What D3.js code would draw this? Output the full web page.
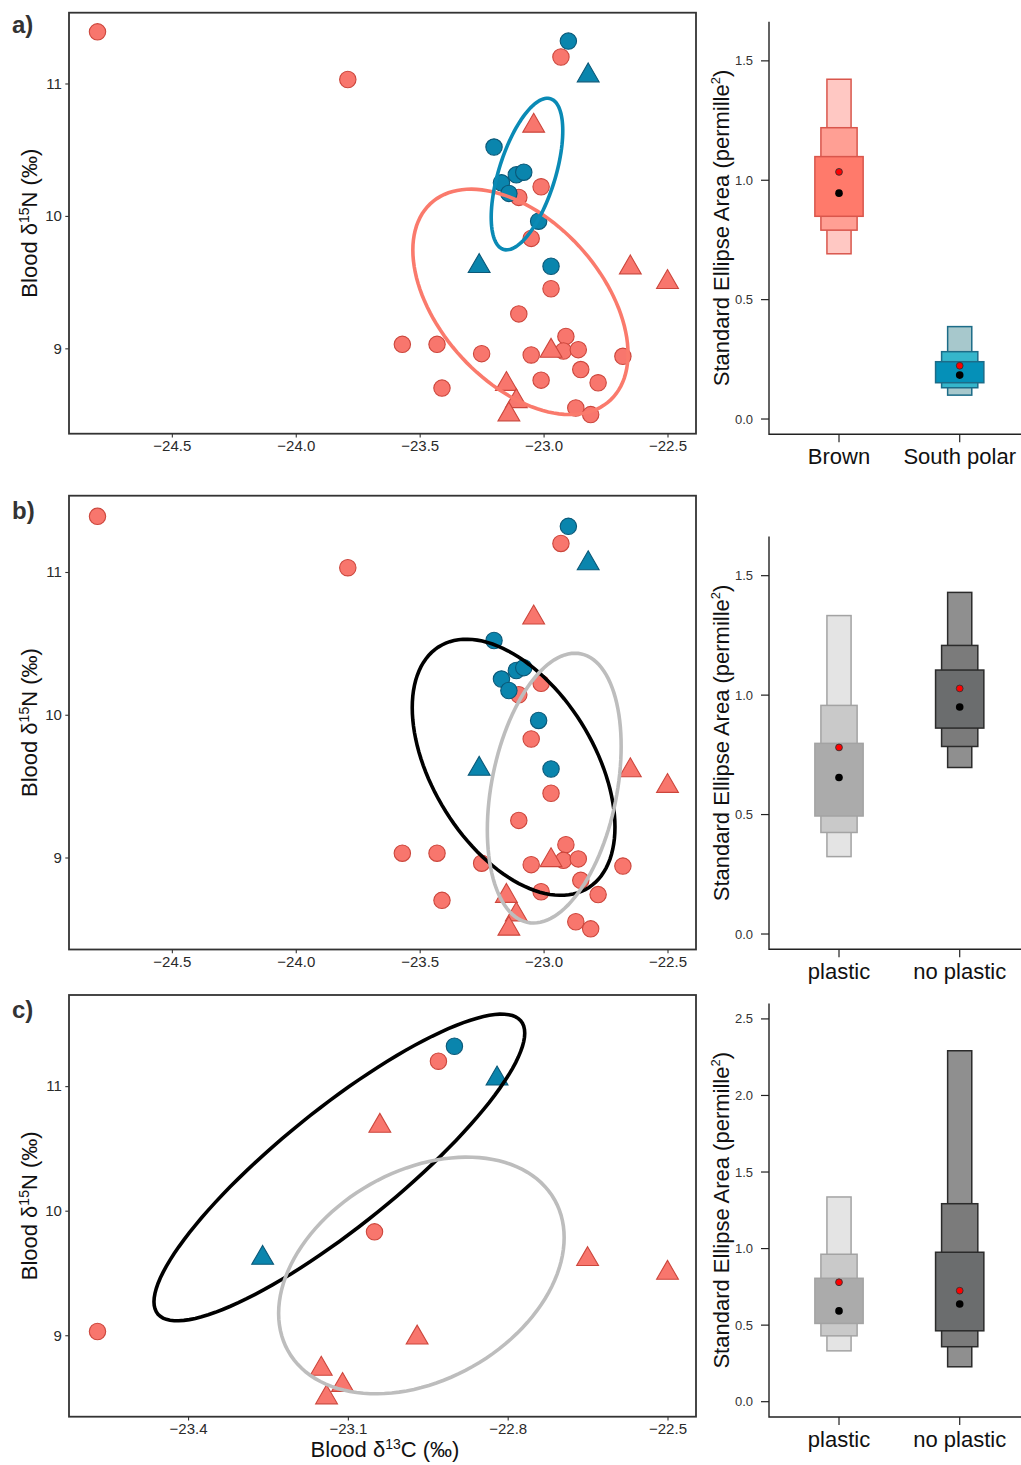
<!DOCTYPE html>
<meta charset="utf-8">
<style>
    body {
        margin: 0;
        background: #fff;
    }
</style>
<div id="chart"></div>
<script src="https://cdn.jsdelivr.net/npm/d3@7"></script>
<script>
    // blood isotope values [d13C, d15N]
    const brownCircles = [
        [-24.80, 11.39], [-23.79, 11.03], [-22.93, 11.20], [-23.01, 10.22], [-23.10, 10.14],
        [-23.05, 9.83], [-22.97, 9.45], [-23.10, 9.26], [-22.91, 9.09], [-22.92, 8.98],
        [-22.86, 8.99], [-23.05, 8.95], [-23.25, 8.96], [-23.57, 9.03], [-23.43, 9.03],
        [-23.41, 8.70], [-23.01, 8.76], [-22.85, 8.84], [-22.78, 8.74], [-22.68, 8.94],
        [-22.87, 8.55], [-22.81, 8.50]
    ];
    const brownTriangles = [
        [-23.04, 10.68], [-22.97, 8.98], [-23.15, 8.73], [-23.11, 8.60], [-23.14, 8.50],
        [-22.65, 9.61], [-22.50, 9.50]
    ];
    const polarCircles = [
        [-22.90, 11.32], [-23.20, 10.52], [-23.11, 10.31], [-23.08, 10.33], [-23.17, 10.25],
        [-23.14, 10.17], [-23.02, 9.96], [-22.97, 9.62]
    ];
    const polarTriangles = [[-22.82, 11.06], [-23.26, 9.62]];

    // circles that are also in panel c (all triangles are)
    const brownCirclesInC = [2, 5, 13];
    const polarCirclesInC = [0];

    // plastic / no plastic standard ellipses (mean, half extent, correlation)
    const ellipsesB = [
        {group: "no plastic", mean: [-23.121, 9.632], half: [0.409, 0.897], rho: -0.466},
        {group: "plastic", mean: [-22.957, 9.486], half: [0.270, 0.945], rho: 0.31}
    ];
    const ellipsesC = [
        {group: "no plastic", mean: [-23.116, 10.347], half: [0.348, 1.231], rho: 0.876},
        {group: "plastic", mean: [-22.962, 9.480], half: [0.268, 0.950], rho: 0.32}
    ];

    const xTicksAB = [-24.5, -24.0, -23.5, -23.0, -22.5];
    const xTicksC = [-23.4, -23.1, -22.8, -22.5];
    const yTicks = [9, 10, 11];

    // SEA posterior: credible intervals 95 / 75 / 50 %, red and black point
    const seaA = [
        {cat: "Brown", ci: [[0.692, 1.423], [0.791, 1.220], [0.849, 1.099]], red: 1.035, black: 0.946},
        {cat: "South polar", ci: [[0.100, 0.387], [0.131, 0.282], [0.152, 0.240]], red: 0.223, black: 0.184}
    ];
    const seaB = [
        {cat: "plastic", ci: [[0.324, 1.333], [0.425, 0.957], [0.494, 0.798]], red: 0.781, black: 0.655},
        {cat: "no plastic", ci: [[0.697, 1.430], [0.785, 1.208], [0.862, 1.105]], red: 1.028, black: 0.950}
    ];
    const seaC = [
        {cat: "plastic", ci: [[0.332, 1.337], [0.430, 0.963], [0.511, 0.806]], red: 0.780, black: 0.593},
        {cat: "no plastic", ci: [[0.228, 2.292], [0.359, 1.293], [0.463, 0.976]], red: 0.725, black: 0.638}
    ];
    const seaTicksAB = [0, 0.5, 1.0, 1.5];
    const seaTicksC = [0, 0.5, 1.0, 1.5, 2.0, 2.5];

    const font = "'Liberation Sans', Arial, Helvetica, sans-serif";
    const RED = "#F8766D", RED_LINE = "#CC463C", BLUE = "#0A85AD", BLUE_LINE = "#0A5878";

    const svg = d3.select("#chart").append("svg")
        .attr("width", 1021)
        .attr("height", 1465)
        .style("font-family", font);

    // stat_ellipse(type = "norm", level = 0.4)
    function ellipseStats(pts) {
        const n = pts.length;
        const mx = d3.mean(pts, d => d[0]), my = d3.mean(pts, d => d[1]);
        const sx = d3.deviation(pts, d => d[0]), sy = d3.deviation(pts, d => d[1]);
        const cov = d3.sum(pts, d => (d[0] - mx) * (d[1] - my)) / (n - 1);
        const df = n - 1;
        const f = df / 2 * (Math.pow(1 - 0.4, -2 / df) - 1); // qf(0.4, 2, df)
        const k = Math.sqrt(2 * f);
        return {mean: [mx, my], half: [k * sx, k * sy], rho: cov / (sx * sy)};
    }

    function ellipsePoints(e) {
        return d3.range(0, 121).map(i => {
            const t = 2 * Math.PI * i / 120;
            return [e.mean[0] + e.half[0] * Math.cos(t),
                e.mean[1] + e.half[1] * (e.rho * Math.cos(t) + Math.sqrt(1 - e.rho * e.rho) * Math.sin(t))];
        });
    }

    const minus = s => s.replace("-", "\u2212");

    function triPath(r) {
        const h = r * Math.sqrt(3) / 2;
        return `M0,${-r}L${h},${r / 2}L${-h},${r / 2}Z`;
    }

    function scatterPanel(opt) {
        const left = 69, right = 696;
        const g = svg.append("g");
        const allPts = opt.groups.flatMap(gr => gr.pts);
        const ellPts = opt.ellipses.flatMap(e => ellipsePoints(e.stats));
        const xs = allPts.concat(ellPts).map(d => d[0]);
        const ys = allPts.concat(ellPts).map(d => d[1]);
        const xe = d3.extent(xs), ye = d3.extent(ys);
        const xp = (xe[1] - xe[0]) * 0.05, yp = (ye[1] - ye[0]) * 0.05;
        const x = d3.scaleLinear().domain([xe[0] - xp, xe[1] + xp]).range([left, right]);
        const y = d3.scaleLinear().domain([ye[0] - yp, ye[1] + yp]).range([opt.bottom, opt.top]);

        // axes
        const ax = g.append("g").attr("transform", `translate(0,${opt.bottom})`)
            .call(d3.axisBottom(x).tickValues(opt.xTicks).tickSize(3.7).tickPadding(3)
                .tickFormat(d => minus(d3.format(".1f")(d))));
        const ay = g.append("g").attr("transform", `translate(${left},0)`)
            .call(d3.axisLeft(y).tickValues(yTicks).tickSize(3.7).tickPadding(3.5)
                .tickFormat(d3.format("d")));
        [ax, ay].forEach(a => {
            a.select(".domain").remove();
            a.selectAll("line").attr("stroke", "#333").attr("stroke-width", 1.1);
            a.selectAll("text").attr("fill", "#2a2a2a").style("font-size", "15px").style("font-family", font);
        });

        // points
        opt.groups.forEach(gr => {
            if (gr.shape === "circle") {
                g.append("g").selectAll("circle").data(gr.pts).join("circle")
                    .attr("cx", d => x(d[0])).attr("cy", d => y(d[1])).attr("r", 8.2)
                    .attr("fill", gr.fill).attr("stroke", gr.line).attr("stroke-width", 1.1);
            } else {
                g.append("g").selectAll("path").data(gr.pts).join("path")
                    .attr("transform", d => `translate(${x(d[0])},${y(d[1])})`)
                    .attr("d", triPath(12.6))
                    .attr("fill", gr.fill).attr("stroke", gr.line).attr("stroke-width", 1.1);
            }
        });

        // ellipses
        const line = d3.line().x(d => x(d[0])).y(d => y(d[1])).curve(d3.curveLinearClosed);
        opt.ellipses.forEach(e => {
            g.append("path").attr("d", line(ellipsePoints(e.stats)))
                .attr("fill", "none").attr("stroke", e.color).attr("stroke-width", 3.6);
        });

        g.append("rect").attr("x", left).attr("y", opt.top)
            .attr("width", right - left).attr("height", opt.bottom - opt.top)
            .attr("fill", "none").attr("stroke", "#333").attr("stroke-width", 1.8);

        g.append("text").attr("x", 12).attr("y", opt.top + opt.labelDy)
            .style("font-size", "24px").style("font-weight", "bold").attr("fill", "#333")
            .text(opt.label);

        const yt = g.append("text")
            .attr("transform", `translate(37,${(opt.top + opt.bottom) / 2}) rotate(-90)`)
            .attr("text-anchor", "middle").style("font-size", "22px").attr("fill", "#111");
        yt.append("tspan").text("Blood \u03b4");
        yt.append("tspan").attr("dy", -8).style("font-size", "14px").text("15");
        yt.append("tspan").attr("dy", 8).text("N (\u2030)");
    }

    function seaPanel(opt) {
        const axisLeft = 769;
        const g = svg.append("g");
        const x = d3.scaleLinear().domain([0.42, 2.58]).range([axisLeft, 769 + 2.16 * 120.7]);
        const y = d3.scaleLinear().domain([-opt.ylim * 0.04, opt.ylim * 1.04]).range([opt.bottom, opt.top]);
        const halfW = [0.1, 0.15, 0.2];

        opt.data.forEach((d, i) => {
            const pos = i + 1;
            d.ci.forEach((c, j) => {
                g.append("rect")
                    .attr("x", x(pos - halfW[j])).attr("width", x(pos + halfW[j]) - x(pos - halfW[j]))
                    .attr("y", y(c[1])).attr("height", y(c[0]) - y(c[1]))
                    .attr("fill", opt.palette[i][j]).attr("stroke", opt.border[i]).attr("stroke-width", 1.5);
            });
            g.append("circle").attr("cx", x(pos)).attr("cy", y(d.red)).attr("r", 3.4)
                .attr("fill", "#ff0000").attr("stroke", "#333").attr("stroke-width", 0.9);
            g.append("circle").attr("cx", x(pos)).attr("cy", y(d.black)).attr("r", 3.8).attr("fill", "#000");
        });

        // L-shaped box and ticks, base graphics style
        g.append("path").attr("d", `M${axisLeft},${opt.top}V${opt.bottom}H1021`)
            .attr("fill", "none").attr("stroke", "#222").attr("stroke-width", 1.4);
        opt.ticks.forEach(t => {
            g.append("line").attr("x1", axisLeft - 8).attr("x2", axisLeft).attr("y1", y(t)).attr("y2", y(t))
                .attr("stroke", "#222").attr("stroke-width", 1.2);
            g.append("text").attr("x", axisLeft - 16).attr("y", y(t)).attr("dy", "0.35em")
                .attr("text-anchor", "end").style("font-size", "13px").attr("fill", "#333")
                .text(d3.format(".1f")(t));
        });
        opt.data.forEach((d, i) => {
            g.append("line").attr("x1", x(i + 1)).attr("x2", x(i + 1))
                .attr("y1", opt.bottom).attr("y2", opt.bottom + 8).attr("stroke", "#222").attr("stroke-width", 1.2);
            g.append("text").attr("x", x(i + 1)).attr("y", opt.bottom + 30)
                .attr("text-anchor", "middle").style("font-size", "22px").attr("fill", "#111").text(d.cat);
        });

        const yt = g.append("text")
            .attr("transform", `translate(729,${(opt.top + opt.bottom) / 2}) rotate(-90)`)
            .attr("text-anchor", "middle").style("font-size", "22px").attr("fill", "#111");
        yt.append("tspan").text("Standard Ellipse Area (permille");
        yt.append("tspan").attr("dy", -9).style("font-size", "13px").text("2");
        yt.append("tspan").attr("dy", 9).text(")");
    }

    const brownAll = brownCircles.concat(brownTriangles);
    const polarAll = polarCircles.concat(polarTriangles);
    const speciesGroups = (bc, bt, pc, pt) => [
        {shape: "circle", pts: bc, fill: RED, line: RED_LINE},
        {shape: "triangle", pts: bt, fill: RED, line: RED_LINE},
        {shape: "circle", pts: pc, fill: BLUE, line: BLUE_LINE},
        {shape: "triangle", pts: pt, fill: BLUE, line: BLUE_LINE}
    ];

    // a) species
    scatterPanel({
        label: "a)", top: 12.7, bottom: 433.7, labelDy: 20.5, xTicks: xTicksAB,
        groups: speciesGroups(brownCircles, brownTriangles, polarCircles, polarTriangles),
        ellipses: [
            {stats: ellipseStats(brownAll), color: "#FA7A6C"},
            {stats: ellipseStats(polarAll), color: "#0A8AB5"}
        ]
    });
    // b) plastic, all birds
    scatterPanel({
        label: "b)", top: 495.7, bottom: 949.5, labelDy: 23, xTicks: xTicksAB,
        groups: speciesGroups(brownCircles, brownTriangles, polarCircles, polarTriangles),
        ellipses: [
            {stats: ellipsesB[0], color: "#000"},
            {stats: ellipsesB[1], color: "#BDBDBD"}
        ]
    });
    // c) subset
    scatterPanel({
        label: "c)", top: 995, bottom: 1416.7, labelDy: 23, xTicks: xTicksC,
        groups: speciesGroups(brownCirclesInC.map(i => brownCircles[i]), brownTriangles,
            polarCirclesInC.map(i => polarCircles[i]), polarTriangles),
        ellipses: [
            {stats: ellipsesC[0], color: "#000"},
            {stats: ellipsesC[1], color: "#BDBDBD"}
        ]
    });

    const xt = svg.append("text").attr("x", 385).attr("y", 1457)
        .attr("text-anchor", "middle").style("font-size", "22px").attr("fill", "#111");
    xt.append("tspan").text("Blood \u03b4");
    xt.append("tspan").attr("dy", -8).style("font-size", "14px").text("13");
    xt.append("tspan").attr("dy", 8).text("C (\u2030)");

    const greys = [["#E4E4E4", "#C9C9C9", "#ABABAB"], ["#8F8F8F", "#7B7B7B", "#6B6D6E"]];
    const greyBorders = ["#A3A3A3", "#2B2B2B"];

    seaPanel({
        top: 21.7, bottom: 434.3, ylim: 1.6, ticks: seaTicksAB, data: seaA,
        palette: [["#FFC8C3", "#FF9F94", "#FF7A6B"], ["#A7C8CC", "#35B6CB", "#0590B8"]],
        border: ["#D9564C", "#1C6C88"]
    });
    seaPanel({top: 536.5, bottom: 949.3, ylim: 1.6, ticks: seaTicksAB, data: seaB, palette: greys, border: greyBorders});
    seaPanel({top: 1003.6, bottom: 1417, ylim: 2.5, ticks: seaTicksC, data: seaC, palette: greys, border: greyBorders});
</script>
